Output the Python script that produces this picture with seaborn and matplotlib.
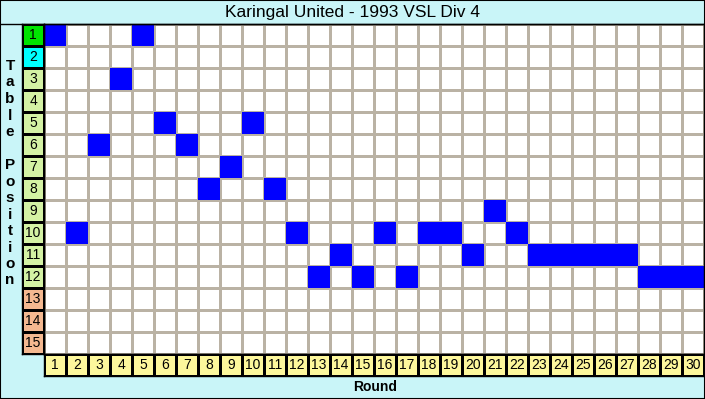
import numpy as np
import pandas as pd
import matplotlib
matplotlib.use("Agg")
import matplotlib.pyplot as plt
from matplotlib.colors import ListedColormap
import seaborn as sns

title = "Karingal United - 1993 VSL Div 4"
rounds = list(range(1, 31))
positions = [1, 10, 6, 3, 1, 5, 6, 8, 7, 5, 8, 10, 12, 11, 12, 10, 12, 10, 10, 11,
             9, 10, 11, 11, 11, 11, 11, 12, 12, 12]
table_rows = list(range(1, 16))
# 0 = promoted, 1 = second, 2 = mid table, 3 = relegation zone
row_zone = [0, 1] + [2] * 10 + [3] * 3

bg = "#c9f5f8"
W, H = 705, 399
plt.rcParams["font.family"] = ["Liberation Sans", "DejaVu Sans"]


def box(x0, y0, x1, y1):
    return [x0 / W, 1 - y1 / H, (x1 - x0) / W, (y1 - y0) / H]


def tidy(a):
    a.set_xlabel("")
    a.set_ylabel("")
    for s in a.spines.values():
        s.set_visible(True)
        s.set_color("black")
        s.set_linewidth(1)


fig = plt.figure(figsize=(W / 100, H / 100), dpi=100, facecolor=bg)

# main grid
grid = pd.DataFrame(0, index=table_rows, columns=rounds)
for r, p in zip(rounds, positions):
    grid.loc[p, r] = 1
ax = fig.add_axes(box(44, 24, 704, 354))
sns.heatmap(grid * 0, ax=ax, cmap=ListedColormap(["white"]), cbar=False,
            linewidths=0.75, linecolor="#bab2a4", xticklabels=False, yticklabels=False)
sns.heatmap(grid, ax=ax, mask=grid == 0, cmap=ListedColormap(["#0000ff"]), cbar=False,
            linewidths=0, xticklabels=False, yticklabels=False)
tidy(ax)

# position column
pos_df = pd.DataFrame({"zone": row_zone}, index=table_rows)
axp = fig.add_axes(box(22, 24, 44, 354))
sns.heatmap(pos_df, ax=axp, cmap=ListedColormap(["#00e400", "#00ffff", "#d4f2a4", "#f4b890"]),
            vmin=-0.5, vmax=3.5, cbar=False, linewidths=0.75, linecolor="black",
            annot=np.array(table_rows).reshape(-1, 1), fmt="d",
            annot_kws={"color": "black", "fontsize": 10}, xticklabels=False, yticklabels=False)
tidy(axp)

# round row
rnd_df = pd.DataFrame([rounds], columns=rounds)
axr = fig.add_axes(box(44, 354, 704, 376))
sns.heatmap(rnd_df * 0, ax=axr, cmap=ListedColormap(["#fdf79c"]), cbar=False,
            linewidths=0.75, linecolor="black", annot=rnd_df.values, fmt="d",
            annot_kws={"color": "black", "fontsize": 10}, xticklabels=False, yticklabels=False)
tidy(axr)

fig.text(0.5, 1 - 12 / H, title, ha="center", va="center", fontsize=12.5)
fig.add_artist(plt.Line2D([0, 1], [1 - 24 / H, 1 - 24 / H], color="black", lw=1))
fig.text(375 / W, 1 - 387 / H, "Round", ha="center", va="center", fontsize=10, fontweight="bold")

label = "Table Position"
y = 66
for ch in label:
    if ch != " ":
        fig.text(10 / W, 1 - y / H, ch, ha="center", va="center", fontsize=11, fontweight="bold")
    y += 16.5

fig.add_artist(plt.Rectangle((0, 0), 1, 1, transform=fig.transFigure, fill=False,
                             edgecolor="black", lw=1.5))

fig.savefig("out.png", dpi=100, facecolor=bg)
